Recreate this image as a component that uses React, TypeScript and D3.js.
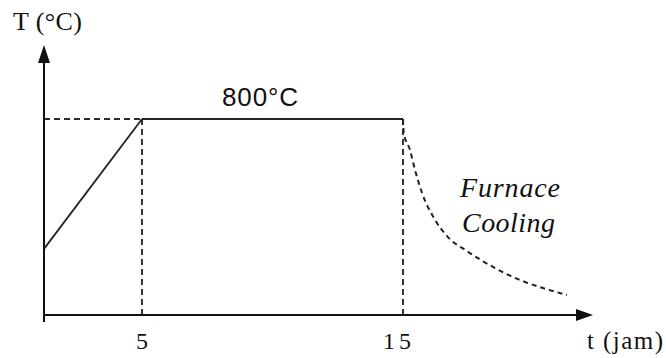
import React from "react";
import * as d3 from "d3";

// Heat-treatment cycle: heating ramp, hold at 800°C, furnace cooling
const heatingHours = [0, 5];
const heatingTemps = [270, 800];
const holdHours = [5, 15];
const holdTemps = [800, 800];
const coolingHours = [15, 15.03, 15.27, 15.46, 15.73, 16.23, 16.72, 17.45, 18.45, 19.48, 20.36, 21.28];
const coolingTemps = [800, 743, 673, 592, 498, 388, 318, 261, 196, 143, 110, 82];
const xTickValues = [5, 15];
const xTickLabels = ["5", "15"];
const holdLabel = "800°C";
const yAxisTitle = "T (°C)";
const xAxisTitle = "t (jam)";
const coolingLabel = ["Furnace", "Cooling"];

const W = 666;
const H = 358;

export default function App() {
  // schematic time axis: piecewise-linear between the marked instants
  const x = d3.scaleLinear().domain([0, 5, 15]).range([44, 142, 403]);
  const y = d3.scaleLinear().domain([0, 800]).range([315, 119]);

  const toPts = (ts: number[], vs: number[]) => ts.map((t, i) => [t, vs[i]] as [number, number]);

  const straight = d3
    .line<[number, number]>()
    .x((d) => x(d[0]))
    .y((d) => y(d[1]));
  const smooth = d3
    .line<[number, number]>()
    .x((d) => x(d[0]))
    .y((d) => y(d[1]))
    .curve(d3.curveMonotoneX);

  const x0 = x(0);
  const y0 = y(0);
  const stroke = "#222";
  const serif = "'Liberation Serif', 'DejaVu Serif', serif";
  const sans = "'Liberation Sans', Arial, sans-serif";

  return (
    <svg
      width={W}
      height={H}
      viewBox={`0 0 ${W} ${H}`}
      style={{ position: "absolute", left: 0, top: 0, background: "#fff" }}
    >
      {/* guide lines to the hold level and the marked instants */}
      <g stroke="#2a2a2a" strokeWidth={1.9} strokeDasharray="6 4" fill="none">
        <line x1={x0} x2={x(5)} y1={y(800)} y2={y(800)} />
        {xTickValues.map((t) => (
          <line key={t} x1={x(t)} x2={x(t)} y1={y(800)} y2={y0} />
        ))}
      </g>

      {/* heating and hold */}
      <path d={straight(toPts(heatingHours, heatingTemps)) || ""} fill="none" stroke={stroke} strokeWidth={1.8} />
      <path d={straight(toPts(holdHours, holdTemps)) || ""} fill="none" stroke={stroke} strokeWidth={1.8} />

      {/* furnace cooling */}
      <path
        d={smooth(toPts(coolingHours, coolingTemps)) || ""}
        fill="none"
        stroke={stroke}
        strokeWidth={2}
        strokeDasharray="5 4"
      />

      {/* axes */}
      <line x1={x0} x2={x0} y1={y0 + 7} y2={58} stroke="#111" strokeWidth={2} />
      <line x1={x0} x2={580} y1={y0} y2={y0} stroke="#111" strokeWidth={2} />
      <path d={`M${x0},45 L${x0 - 6},63 L${x0 + 6},63 Z`} fill="#111" />
      <path d={`M593,${y0} L576,${y0 - 6} L576,${y0 + 6} Z`} fill="#111" />

      {/* labels */}
      <text x={13} y={30} fontFamily={serif} fontSize={26} fill="#111" textLength={69} lengthAdjust="spacing">
        {yAxisTitle}
      </text>
      <text x={587} y={349} fontFamily={serif} fontSize={25} fill="#111" textLength={76} lengthAdjust="spacing">
        {xAxisTitle}
      </text>
      {xTickValues.map((t, i) => (
        <text
          key={t}
          x={x(t) - (i === 1 ? 4 : 0)}
          y={349}
          textAnchor="middle"
          fontFamily={serif}
          fontSize={24}
          fill="#111"
          letterSpacing={i === 1 ? 4 : 0}
        >
          {xTickLabels[i]}
        </text>
      ))}
      <text x={222} y={106} fontFamily={sans} fontSize={26} fill="#111" textLength={76} lengthAdjust="spacing">
        {holdLabel}
      </text>
      <text x={460} y={197} fontFamily={serif} fontStyle="italic" fontSize={28} fill="#111" textLength={100} lengthAdjust="spacing">
        {coolingLabel[0]}
      </text>
      <text x={462} y={232} fontFamily={serif} fontStyle="italic" fontSize={28} fill="#111" textLength={93} lengthAdjust="spacing">
        {coolingLabel[1]}
      </text>
    </svg>
  );
}
